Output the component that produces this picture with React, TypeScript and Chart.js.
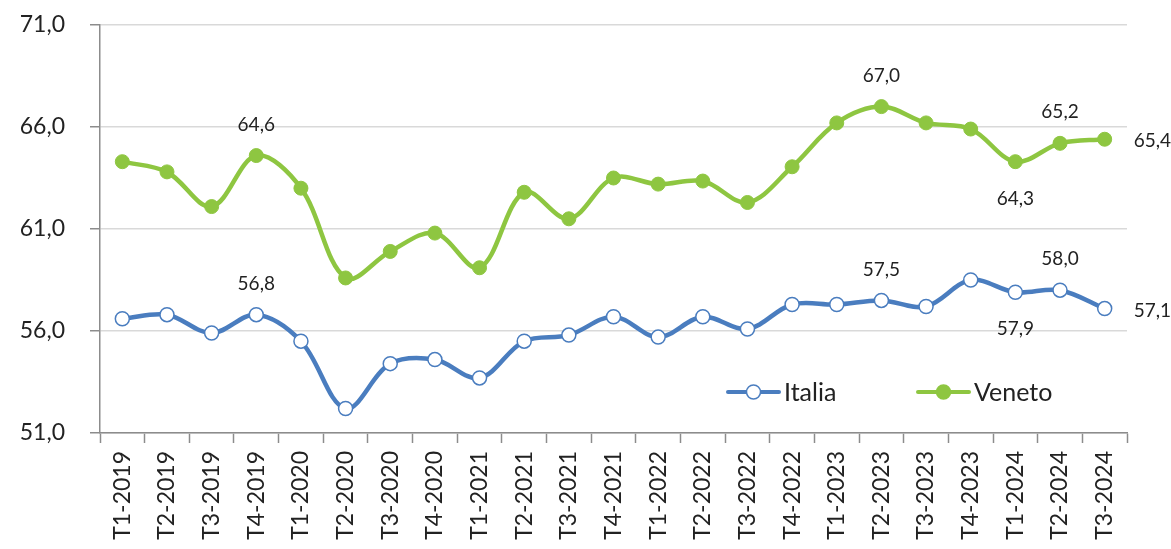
import React, { useEffect, useRef } from 'react';
import { Chart, registerables } from 'chart.js';

Chart.register(...registerables);

const categories = [
  'T1-2019', 'T2-2019', 'T3-2019', 'T4-2019',
  'T1-2020', 'T2-2020', 'T3-2020', 'T4-2020',
  'T1-2021', 'T2-2021', 'T3-2021', 'T4-2021',
  'T1-2022', 'T2-2022', 'T3-2022', 'T4-2022',
  'T1-2023', 'T2-2023', 'T3-2023', 'T4-2023',
  'T1-2024', 'T2-2024', 'T3-2024',
];

const italia = [
  56.6, 56.8, 55.9, 56.8, 55.5, 52.2, 54.4, 54.6, 53.7, 55.5, 55.8, 56.7,
  55.7, 56.7, 56.1, 57.3, 57.3, 57.5, 57.2, 58.5, 57.9, 58.0, 57.1,
];

const veneto = [
  64.3, 63.8, 62.1, 64.6, 63.0, 58.6, 59.9, 60.8, 59.1, 62.8, 61.5, 63.5,
  63.2, 63.35, 62.3, 64.05, 66.2, 67.0, 66.2, 65.9, 64.3, 65.2, 65.4,
];

const yTicks = [51, 56, 61, 66, 71];

// which points carry a value label, and where the label sits
const italiaLabelled = [3, 17, 20, 21, 22];
const venetoLabelled = [3, 17, 20, 21, 22];
const labelPlacement: Record<number, string> = { 3: 'above', 17: 'above', 20: 'below', 21: 'above', 22: 'right' };

const BLUE = '#4A7DBF';
const GREEN = '#8EC641';
const TEXT = '#222222';
const FONT = 'Lato';

const fmt = (v: number) => v.toFixed(1).replace('.', ',');

const dataLabelPlugin = {
  id: 'dataLabels',
  afterDatasetsDraw(chart: any) {
    const ctx = chart.ctx;
    ctx.save();
    ctx.font = `19px ${FONT}`;
    ctx.fillStyle = TEXT;
    ctx.textBaseline = 'middle';
    const lists = [italiaLabelled, venetoLabelled];
    chart.data.datasets.forEach((ds: any, di: number) => {
      const meta = chart.getDatasetMeta(di);
      lists[di].forEach((idx) => {
        const pt = meta.data[idx];
        const txt = fmt(ds.data[idx]);
        const place = labelPlacement[idx];
        if (place === 'right') {
          ctx.textAlign = 'left';
          ctx.fillText(txt, pt.x + 29, pt.y + 2);
        } else if (place === 'below') {
          ctx.textAlign = 'center';
          ctx.fillText(txt, pt.x, pt.y + 37);
        } else {
          ctx.textAlign = 'center';
          ctx.fillText(txt, pt.x, pt.y - 31);
        }
      });
    });
    ctx.restore();
  },
};

const legendPlugin = {
  id: 'insideLegend',
  afterDraw(chart: any) {
    const ctx = chart.ctx;
    const area = chart.chartArea;
    const y = area.bottom - 41;
    const items = [
      { label: chart.data.datasets[0].label, color: BLUE, x: area.left + 628, hollow: true },
      { label: chart.data.datasets[1].label, color: GREEN, x: area.left + 818, hollow: false },
    ];
    ctx.save();
    items.forEach((it) => {
      ctx.strokeStyle = it.color;
      ctx.lineWidth = 4;
      ctx.lineCap = 'round';
      ctx.beginPath();
      ctx.moveTo(it.x, y);
      ctx.lineTo(it.x + 51, y);
      ctx.stroke();
      ctx.beginPath();
      ctx.arc(it.x + 25.5, y, 7, 0, Math.PI * 2);
      ctx.fillStyle = it.hollow ? '#ffffff' : it.color;
      ctx.fill();
      ctx.lineWidth = 1.5;
      ctx.stroke();
      ctx.fillStyle = TEXT;
      ctx.font = `25px ${FONT}`;
      ctx.textAlign = 'left';
      ctx.textBaseline = 'middle';
      ctx.fillText(it.label, it.x + 56, y + 1);
    });
    ctx.restore();
  },
};

export default function App() {
  const ref = useRef<HTMLCanvasElement | null>(null);

  useEffect(() => {
    document.body.style.margin = '0';
    if (!ref.current) return;
    const chart = new Chart(ref.current, {
      type: 'line',
      data: {
        labels: categories,
        datasets: [
          {
            label: 'Italia',
            data: italia,
            borderColor: BLUE,
            borderWidth: 4.5,
            tension: 0.35,
            pointRadius: 7,
            pointBackgroundColor: '#ffffff',
            pointBorderColor: BLUE,
            pointBorderWidth: 1.5,
          },
          {
            label: 'Veneto',
            data: veneto,
            borderColor: GREEN,
            borderWidth: 4.5,
            tension: 0.35,
            pointRadius: 7,
            pointBackgroundColor: GREEN,
            pointBorderColor: GREEN,
            pointBorderWidth: 1,
          },
        ],
      },
      options: {
        animation: false,
        responsive: true,
        maintainAspectRatio: false,
        layout: { padding: { top: 25, right: 44, left: 0, bottom: 0 } },
        plugins: {
          legend: { display: false },
          tooltip: { enabled: false },
        },
        scales: {
          x: {
            type: 'category',
            offset: true,
            grid: {
              offset: true,
              drawOnChartArea: false,
              drawTicks: true,
              tickLength: 10,
              tickColor: '#8c8c8c',
              tickWidth: 1.5,
            },
            border: { display: true, color: '#8c8c8c', width: 1.5 },
            ticks: {
              autoSkip: false,
              minRotation: 90,
              maxRotation: 90,
              padding: 8,
              color: TEXT,
              font: { family: FONT, size: 23 },
            },
            afterFit: (axis: any) => {
              axis.height = 116;
              axis.paddingLeft = 0;
              axis.paddingRight = 0;
            },
          },
          y: {
            min: 51,
            max: 71,
            grid: {
              color: '#d9d9d9',
              lineWidth: 1.5,
              drawTicks: true,
              tickLength: 10,
              tickColor: '#8c8c8c',
              tickWidth: 1.5,
            },
            border: { display: true, color: '#8c8c8c', width: 1.5 },
            ticks: {
              padding: 25,
              color: TEXT,
              font: { family: FONT, size: 23 },
              callback: (v: any) => fmt(Number(v)),
            },
            afterBuildTicks: (axis: any) => {
              axis.ticks = yTicks.map((v) => ({ value: v }));
            },
            afterFit: (axis: any) => {
              axis.width = 100;
              axis.paddingTop = 0;
              axis.paddingBottom = 0;
            },
          },
        },
      },
      plugins: [dataLabelPlugin, legendPlugin],
    });
    return () => chart.destroy();
  }, []);

  return (
    <div style={{ width: '1171px', height: '549px', position: 'relative', background: '#ffffff' }}>
      <canvas ref={ref} />
    </div>
  );
}
